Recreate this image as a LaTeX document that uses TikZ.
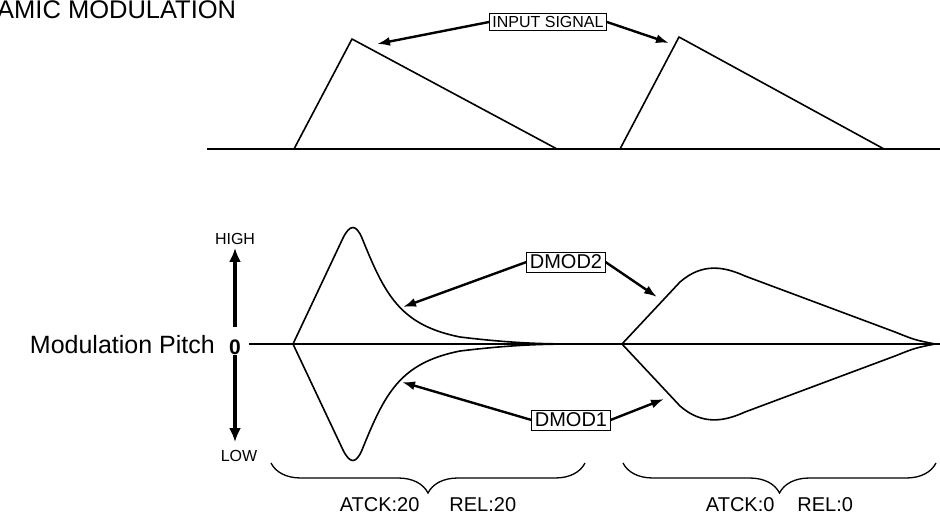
\documentclass[tikz,border=0pt]{standalone}
\usepackage{fontspec}
\setmainfont{Liberation Sans}
\usetikzlibrary{arrows.meta,decorations.pathreplacing}

\tikzset{
  lbl/.style={draw,thick,inner xsep=3pt,inner ysep=3pt,
    font=\fontsize{20}{20}\selectfont},
  ptr/.style={line width=2.4pt,-{Latex[length=13pt,width=9pt]}},
  vptr/.style={line width=3.5pt,-{Latex[length=14pt,width=12pt]}},
  curve/.style={line width=1.6pt,line join=round},
  brc/.style={decorate,decoration={brace,mirror,amplitude=30pt},line width=1.3pt},
}

\begin{document}
\begin{tikzpicture}[x=1pt,y=-1pt]
  \useasboundingbox (0,0) rectangle (940,515);

  % title (cut at the left edge)
  \node[anchor=west,inner sep=0,font=\fontsize{25.5}{26}\selectfont]
    (title) at (-3,10) {AMIC MODULATION};

  % input signal
  \draw[line width=2.2pt] (207,149) -- (940,149);
  \draw[curve] (294,149) -- (352,39) -- (557,149);
  \draw[curve] (620,149) -- (679,37) -- (884,149);
  \node[lbl,font=\fontsize{16}{16}\selectfont] (insig) at (548,22) {INPUT SIGNAL};
  \coordinate (inA) at (377,44);
  \coordinate (inB) at (669,43);
  \draw[ptr] (insig.west) -- (inA);
  \draw[ptr] (insig.east) -- (inB);

  % pitch axis
  \node[anchor=base east,inner sep=0,font=\fontsize{25}{25}\selectfont]
    (pitch) at (215,353) {Modulation Pitch};
  \node[anchor=base,inner sep=0,font=\fontsize{21}{21}\selectfont\bfseries]
    (zero) at (235,354) {0};
  \node[inner sep=0,font=\fontsize{16}{16}\selectfont] (high) at (235,239) {HIGH};
  \node[inner sep=0,font=\fontsize{16}{16}\selectfont] (low) at (239,456) {LOW};
  \draw[vptr,shorten <=12pt,shorten >=3pt] (zero.north) -- (zero.north |- high.south);
  \draw[vptr,shorten <=1pt,shorten >=8pt] (zero.south) -- (zero.south |- low.north);
  \coordinate (axend) at (940,344);
  \draw[line width=2.4pt,shorten <=8pt] (zero.east |- axend) -- (axend);

  % modulation curves, upper half and mirrored lower half
  \foreach \s in {1,-1}{
  \begin{scope}[shift={(0,344)},yscale=\s]
    \draw[curve] (293,0) -- (343,-106) .. controls (350,-120) and (356,-120) .. (362,-106)
      .. controls (385,-49) and (400,-19) .. (460,-7)
      .. controls (510,-1) and (540,0) .. (578,0);
    \draw[curve] (622,0) -- (680,-62) .. controls (703,-82) and (725,-77) .. (745,-68)
      -- (895,-12) .. controls (915,-4) .. (935,0);
  \end{scope}}

  % labels
  \node[lbl] (dmodb) at (566,262) {DMOD2};
  \node[lbl] (dmoda) at (571,420) {DMOD1};
  \coordinate (dbL) at (403,307);
  \coordinate (dbR) at (657,297);
  \coordinate (daL) at (402,382);
  \coordinate (daR) at (664,399);
  \draw[ptr] (dmodb.west) -- (dbL);
  \draw[ptr] (dmodb.east) -- (dbR);
  \draw[ptr] (dmoda.west) -- (daL);
  \draw[ptr] (dmoda.east) -- (daR);

  % braces
  \draw[brc] (271,463) -- (585,463) coordinate[midway] (brA);
  \draw[brc] (623,463) -- (936,463) coordinate[midway] (brB);
  \node[anchor=north,inner sep=0,font=\fontsize{20}{20}\selectfont]
    (setA) at ([yshift=-34pt]brA) {ATCK:20\hspace{30pt}REL:20};
  \node[anchor=north,inner sep=0,font=\fontsize{20}{20}\selectfont]
    (setB) at ([yshift=-34pt]brB) {ATCK:0\hspace{23pt}REL:0};
\end{tikzpicture}
\end{document}
